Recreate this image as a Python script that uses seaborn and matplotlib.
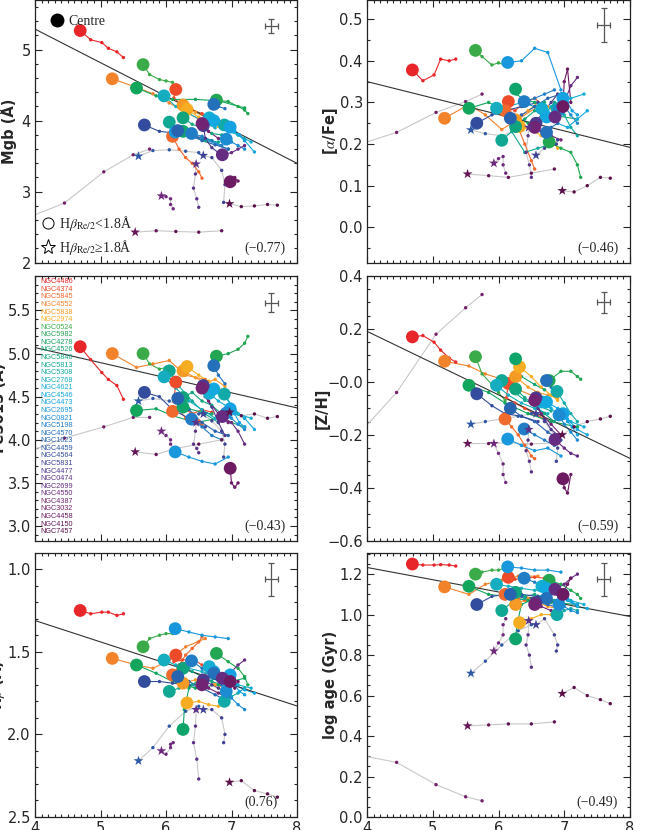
import pandas as pd
import matplotlib.pyplot as plt
import matplotlib.ticker as mticker
from matplotlib.lines import Line2D
import seaborn as sns

sns.set_style("ticks")
plt.rcParams['font.family'] = ['DejaVu Sans']
plt.rcParams['mathtext.fontset'] = 'stix'

# galaxy names, colours, and which ones have Hbeta(Re/2) >= 1.8
names = ['NGC4486', 'NGC4374', 'NGC5845', 'NGC4552', 'NGC5838', 'NGC2974',
         'NGC0524', 'NGC5982', 'NGC4278', 'NGC4526', 'NGC5846', 'NGC5813',
         'NGC5308', 'NGC2768', 'NGC4621', 'NGC4546', 'NGC4473', 'NGC2695',
         'NGC0821', 'NGC5198', 'NGC4570', 'NGC1023', 'NGC4459', 'NGC4564',
         'NGC5831', 'NGC4477', 'NGC0474', 'NGC2699', 'NGC4550', 'NGC4387',
         'NGC3032', 'NGC4458', 'NGC4150', 'NGC7457']
colors = ['#e8262a', '#ee4b2b', '#f0692d', '#f3832b', '#f59b25', '#f7ad22',
          '#3bab4a', '#22a652', '#12a55c', '#0fa46a', '#10a47e', '#10a893',
          '#12aaa8', '#15adbf', '#14aed2', '#12a9e0', '#14a2e2', '#1897dc',
          '#1c8bd2', '#207dc6', '#2470ba', '#2863b0', '#2c58a6', '#334c9e',
          '#3f4296', '#4c3a8e', '#5a3288', '#662c82', '#6e297c', '#722474',
          '#72206c', '#6c1a62', '#641556', '#5a1048']
young = ['NGC4459', 'NGC5831', 'NGC0474', 'NGC4550', 'NGC3032', 'NGC4150', 'NGC7457']

# radial tracks (first point = centre), same x for every panel
x_tr = [
    [4.69, 4.85, 5.02, 5.12, 5.25, 5.35],
    [6.15, 6.12, 6.25, 6.40, 6.55, 6.70],
    [6.10, 6.20, 6.30, 6.40, 6.50, 6.55],
    [5.18, 5.55, 5.80, 6.05, 6.30, 6.60],
    [6.26, 6.45, 6.60, 6.75, 6.90],
    [6.32, 6.50, 6.65, 6.80, 6.90],
    [5.65, 5.75, 5.90, 6.00, 6.10],
    [6.77, 6.95, 7.10, 7.20, 7.25],
    [5.55, 5.85, 6.10, 6.45, 6.80, 7.20],
    [6.26, 6.28, 6.35, 6.55, 6.70],
    [6.26, 6.40, 6.55, 6.70, 6.85],
    [6.05, 6.20, 6.40, 6.60, 6.80],
    [6.89, 7.00, 7.10, 7.20],
    [5.97, 6.15, 6.35, 6.55, 6.75],
    [6.66, 6.80, 6.95, 7.10, 7.30],
    [6.73, 6.90, 7.05, 7.20, 7.35],
    [6.98, 7.05, 7.12, 7.20],
    [6.14, 6.35, 6.55, 6.75, 6.95],
    [6.92, 7.00, 7.10, 7.20],
    [6.39, 6.55, 6.70, 6.85],
    [6.73, 6.80, 6.90],
    [6.18, 6.35, 6.55, 6.75, 6.95],
    [5.58, 5.80, 6.05, 6.30, 6.50],
    [5.67, 5.90, 6.10, 6.35, 6.60],
    [6.57, 6.70, 6.85, 6.90, 6.88],
    [6.57, 6.60, 6.70, 6.80, 6.90],
    [6.46, 6.45, 6.42, 6.47, 6.50],
    [6.86, 7.00, 7.10, 7.20],
    [5.93, 6.00, 6.07, 6.07, 6.11],
    [6.55, 6.65, 6.80, 6.95],
    [3.50, 4.45, 5.05, 5.50, 5.75],
    [6.98, 7.00, 7.05, 7.10],
    [5.53, 5.85, 6.15, 6.50, 6.85],
    [6.97, 7.15, 7.35, 7.55, 7.70],
]
mgb_tr = [
    [5.27, 5.14, 5.10, 5.02, 4.97, 4.89],
    [4.44, 4.32, 4.22, 4.15, 4.10, 4.05],
    [3.78, 3.60, 3.48, 3.40, 3.28, 3.19],
    [4.59, 4.47, 4.38, 4.25, 4.12, 3.98],
    [4.22, 4.12, 4.05, 3.98, 3.93],
    [4.16, 4.05, 3.98, 3.92, 3.88],
    [4.79, 4.65, 4.58, 4.56, 4.54],
    [4.29, 4.27, 4.20, 4.15, 4.10],
    [4.46, 4.35, 4.30, 4.30, 4.28, 4.18],
    [3.85, 3.82, 3.78, 3.75, 3.72],
    [4.04, 3.95, 3.90, 3.82, 3.80],
    [3.98, 3.88, 3.78, 3.72, 3.70],
    [3.94, 3.88, 3.80, 3.75],
    [4.35, 4.20, 4.10, 4.00, 3.90],
    [4.04, 3.95, 3.85, 3.80, 3.70],
    [4.00, 3.92, 3.85, 3.72, 3.56],
    [3.91, 3.85, 3.80, 3.72],
    [3.84, 3.80, 3.75, 3.68, 3.60],
    [3.74, 3.70, 3.65, 3.60],
    [3.82, 3.78, 3.72, 3.65],
    [4.23, 4.20, 4.17],
    [3.86, 3.80, 3.72, 3.66, 3.60],
    [3.50, 3.58, 3.59, 3.57, 3.55],
    [3.94, 3.85, 3.83, 3.80, 3.75],
    [3.51, 3.48, 3.30, 3.10, 2.85],
    [3.93, 3.75, 3.62, 3.55, 3.52],
    [3.39, 3.25, 3.05, 2.90, 2.78],
    [3.52, 3.55, 3.60, 3.65],
    [2.94, 2.93, 2.90, 2.82, 2.76],
    [3.96, 3.85, 3.75, 3.70],
    [2.49, 2.84, 3.28, 3.52, 3.60],
    [3.14, 3.12, 3.20, 3.15],
    [2.43, 2.45, 2.44, 2.43, 2.45],
    [2.83, 2.79, 2.80, 2.82, 2.81],
]
fe_tr = [
    [5.08, 4.93, 4.78, 4.70, 4.63, 4.47],
    [4.67, 4.45, 4.38, 4.30, 4.35, 4.32],
    [4.33, 4.35, 4.25, 4.30, 4.22, 4.18],
    [5.00, 4.84, 4.88, 4.92, 4.75, 4.70],
    [4.80, 4.72, 4.66, 4.70, 4.62],
    [4.85, 4.75, 4.68, 4.60, 4.55],
    [5.00, 4.88, 4.82, 4.84, 4.80],
    [4.97, 5.00, 5.05, 5.12, 5.20],
    [4.34, 4.36, 4.28, 4.20, 4.25, 4.15],
    [4.38, 4.40, 4.36, 4.32, 4.30],
    [4.49, 4.55, 4.45, 4.40, 4.30],
    [4.80, 4.62, 4.45, 4.30, 4.20],
    [4.53, 4.40, 4.30, 4.25],
    [4.73, 4.60, 4.45, 4.35, 4.25],
    [4.54, 4.45, 4.38, 4.30, 4.25],
    [4.59, 4.50, 4.35, 4.25, 4.12],
    [4.36, 4.30, 4.20, 4.15],
    [3.86, 3.80, 3.75, 3.72, 3.80],
    [4.31, 4.25, 4.18, 4.12],
    [4.24, 4.15, 4.05, 4.00],
    [4.86, 4.75, 4.65],
    [4.48, 4.35, 4.20, 4.10, 4.05],
    [4.45, 4.48, 4.45, 4.35, 4.30],
    [4.55, 4.50, 4.35, 4.25, 4.15],
    [4.30, 4.22, 4.10, 3.95, 3.80],
    [4.63, 4.50, 4.38, 4.20, 4.05],
    [4.20, 4.10, 3.95, 3.90, 3.85],
    [4.27, 4.20, 4.10, 3.95],
    [4.10, 4.05, 4.00, 3.95, 3.90],
    [4.60, 4.45, 4.30, 4.20],
    [3.75, 4.02, 4.15, 4.26, 4.26],
    [3.67, 3.50, 3.45, 3.50],
    [3.86, 3.83, 3.90, 3.95, 4.00],
    [4.32, 4.28, 4.30, 4.25, 4.27],
]
hb_tr = [
    [1.25, 1.27, 1.26, 1.26, 1.28, 1.27],
    [1.52, 1.56, 1.55, 1.54, 1.58, 1.60],
    [1.64, 1.58, 1.52, 1.48, 1.44, 1.41],
    [1.54, 1.58, 1.60, 1.55, 1.47, 1.42],
    [1.69, 1.67, 1.65, 1.70, 1.72],
    [1.81, 1.80, 1.82, 1.83, 1.82],
    [1.47, 1.42, 1.40, 1.39, 1.39],
    [1.51, 1.56, 1.60, 1.65, 1.70],
    [1.58, 1.63, 1.68, 1.72, 1.70, 1.66],
    [1.97, 1.85, 1.72, 1.65, 1.60],
    [1.60, 1.62, 1.65, 1.68, 1.70],
    [1.74, 1.72, 1.70, 1.68, 1.66],
    [1.80, 1.77, 1.75, 1.72],
    [1.55, 1.58, 1.60, 1.62, 1.65],
    [1.59, 1.63, 1.66, 1.70, 1.72],
    [1.62, 1.66, 1.70, 1.73, 1.75],
    [1.64, 1.70, 1.74, 1.76],
    [1.36, 1.38, 1.40, 1.41, 1.42],
    [1.74, 1.78, 1.82, 1.85],
    [1.555, 1.60, 1.65, 1.70],
    [1.63, 1.66, 1.70],
    [1.65, 1.68, 1.72, 1.76, 1.80],
    [2.16, 2.08, 1.95, 1.86, 1.83],
    [1.68, 1.68, 1.69, 1.70, 1.72],
    [1.85, 1.85, 1.90, 2.00, 2.05],
    [1.67, 1.68, 1.70, 1.72, 1.74],
    [1.85, 1.95, 2.05, 2.15, 2.27],
    [1.66, 1.62, 1.58, 1.55],
    [2.10, 2.12, 2.08, 2.06, 2.05],
    [1.70, 1.72, 1.75, 1.78],
    [2.90, 2.80, 2.70, 2.60, 2.55],
    [1.68, 1.70, 1.72, 1.68],
    [2.60, 2.62, 2.60, 2.60, 2.62],
    [2.29, 2.28, 2.34, 2.36, 2.38],
]
afe_tr = [
    [0.378, 0.352, 0.366, 0.404, 0.400, 0.404],
    [0.302, 0.290, 0.280, 0.300, 0.310, 0.290],
    [0.280, 0.260, 0.240, 0.200, 0.160, 0.140],
    [0.262, 0.295, 0.270, 0.235, 0.260, 0.290],
    [0.258, 0.280, 0.300, 0.290, 0.270],
    [0.242, 0.235, 0.220, 0.210, 0.190],
    [0.425, 0.410, 0.390, 0.395, 0.390],
    [0.205, 0.190, 0.180, 0.150, 0.120],
    [0.286, 0.300, 0.280, 0.250, 0.270, 0.260],
    [0.332, 0.320, 0.310, 0.300, 0.300],
    [0.242, 0.260, 0.280, 0.270, 0.300],
    [0.209, 0.230, 0.180, 0.190, 0.200],
    [0.285, 0.270, 0.240, 0.220],
    [0.286, 0.290, 0.300, 0.290, 0.280],
    [0.285, 0.290, 0.300, 0.310, 0.320],
    [0.265, 0.250, 0.240, 0.260, 0.280],
    [0.310, 0.300, 0.280, 0.270],
    [0.396, 0.400, 0.430, 0.420, 0.330],
    [0.282, 0.290, 0.270, 0.250],
    [0.302, 0.310, 0.320, 0.330],
    [0.228, 0.240, 0.250],
    [0.262, 0.270, 0.290, 0.310, 0.320],
    [0.234, 0.225, 0.220, 0.235, 0.240],
    [0.250, 0.270, 0.280, 0.290, 0.300],
    [0.173, 0.190, 0.200, 0.210, 0.200],
    [0.250, 0.260, 0.280, 0.300, 0.320],
    [0.240, 0.220, 0.180, 0.150, 0.120],
    [0.265, 0.300, 0.340, 0.360],
    [0.154, 0.165, 0.170, 0.150, 0.130],
    [0.240, 0.230, 0.220, 0.210],
    [0.180, 0.228, 0.276, 0.302, 0.320],
    [0.290, 0.350, 0.380, 0.300],
    [0.128, 0.124, 0.120, 0.130, 0.140],
    [0.088, 0.085, 0.100, 0.120, 0.118],
]
zh_tr = [
    [0.170, 0.175, 0.150, 0.120, 0.090, 0.075],
    [-0.006, -0.060, -0.080, -0.100, -0.120, -0.140],
    [-0.140, -0.170, -0.200, -0.240, -0.280, -0.290],
    [0.078, 0.060, 0.030, 0.010, -0.030, -0.060],
    [0.020, -0.020, -0.040, -0.050, -0.060],
    [0.057, 0.020, -0.020, -0.050, -0.070],
    [0.095, 0.030, -0.010, -0.040, -0.070],
    [0.005, 0.040, 0.040, 0.020, 0.010],
    [-0.013, -0.040, -0.080, -0.120, -0.150, -0.170],
    [0.087, 0.050, 0.020, -0.010, -0.030],
    [-0.027, -0.060, -0.090, -0.120, -0.150],
    [0.005, -0.030, -0.070, -0.090, -0.110],
    [-0.036, -0.080, -0.120, -0.150],
    [-0.013, -0.050, -0.080, -0.100, -0.120],
    [-0.076, -0.100, -0.130, -0.150, -0.170],
    [-0.076, -0.100, -0.140, -0.180, -0.200],
    [-0.120, -0.150, -0.170, -0.200],
    [-0.216, -0.240, -0.260, -0.250, -0.280],
    [-0.125, -0.160, -0.190, -0.220],
    [-0.178, -0.200, -0.220, -0.240],
    [0.005, -0.020, -0.050],
    [-0.100, -0.130, -0.150, -0.190, -0.220],
    [-0.160, -0.150, -0.140, -0.130, -0.120],
    [-0.045, -0.090, -0.120, -0.130, -0.150],
    [-0.120, -0.150, -0.200, -0.250, -0.300],
    [-0.060, -0.100, -0.140, -0.180, -0.200],
    [-0.180, -0.220, -0.260, -0.300, -0.340],
    [-0.218, -0.250, -0.270, -0.280],
    [-0.233, -0.270, -0.310, -0.350, -0.380],
    [-0.070, -0.120, -0.160, -0.200],
    [-0.300, -0.040, 0.180, 0.280, 0.330],
    [-0.366, -0.400, -0.420, -0.350],
    [-0.233, -0.233, -0.230, -0.235, -0.230],
    [-0.200, -0.170, -0.150, -0.140, -0.130],
]
age_tr = [
    [1.250, 1.245, 1.245, 1.247, 1.245, 1.240],
    [1.184, 1.180, 1.175, 1.180, 1.185, 1.180],
    [1.100, 1.090, 1.080, 1.070, 1.060, 1.060],
    [1.137, 1.100, 1.150, 1.170, 1.190, 1.190],
    [1.050, 1.080, 1.060, 1.040, 1.030],
    [0.960, 0.980, 1.000, 1.000, 0.990],
    [1.200, 1.210, 1.220, 1.220, 1.230],
    [1.170, 1.150, 1.120, 1.100, 1.080],
    [1.140, 1.100, 1.090, 1.070, 1.060, 1.050],
    [0.880, 0.950, 1.050, 1.080, 1.100],
    [1.110, 1.090, 1.100, 1.080, 1.070],
    [1.020, 1.060, 1.080, 1.090, 1.100],
    [1.000, 1.020, 1.030, 1.020],
    [1.150, 1.140, 1.130, 1.120, 1.120],
    [1.140, 1.120, 1.100, 1.070, 1.050],
    [1.130, 1.100, 1.070, 1.040, 1.030],
    [1.100, 1.080, 1.060, 1.050],
    [1.236, 1.230, 1.220, 1.220, 1.210],
    [1.050, 1.040, 1.020, 1.010],
    [1.180, 1.160, 1.140, 1.120],
    [1.080, 1.070, 1.060],
    [1.100, 1.090, 1.070, 1.050, 1.030],
    [0.710, 0.770, 0.850, 0.920, 0.950],
    [1.050, 1.090, 1.100, 1.100, 1.090],
    [0.950, 0.980, 0.900, 0.850, 0.820],
    [1.060, 1.080, 1.100, 1.120, 1.130],
    [0.970, 0.900, 0.850, 0.800, 0.740],
    [1.125, 1.150, 1.180, 1.200],
    [0.820, 0.860, 0.900, 0.950, 0.980],
    [1.050, 1.040, 1.020, 1.000],
    [0.330, 0.270, 0.160, 0.100, 0.080],
    [1.100, 1.120, 1.150, 1.180],
    [0.450, 0.455, 0.460, 0.460, 0.470],
    [0.610, 0.640, 0.600, 0.580, 0.560],
]

# panel settings
cols = ['Mgb', 'afe', 'Fe5015', 'ZH', 'Hb', 'age']
ylabels = ['Mgb (Å)', r'[$\alpha$/Fe]', 'Fe5015 (Å)', '[Z/H]', r'H$\beta$ (Å)', 'log age (Gyr)']
ylims = [(2.0, 5.7), (-0.085, 0.546), (2.83, 5.9), (-0.6, 0.4), (2.5, 0.904), (0.0, 1.303)]
ymajor = [1.0, 0.1, 0.5, 0.2, 0.5, 0.2]
yminor = [0.2, 0.05, 0.1, 0.05, 0.1, 0.05]
yfmt = ['%d', '%.1f', '%.1f', '%.1f', '%.1f', '%.1f']
corr = ['(−0.77)', '(−0.46)', '(−0.43)', '(−0.59)', '(0.76)', '(−0.49)']
fit_y0 = [5.29, 0.350, 5.07, 0.191, 1.311, 1.233]   # fit at x=4
fit_y1 = [3.40, 0.192, 4.37, -0.289, 1.828, 0.991]  # fit at x=8
err_x = [7.61, 7.60, 7.61, 7.60, 7.61, 7.60]
err_y = [5.33, 0.486, 5.59, 0.30, 1.06, 1.174]
err_dx = [0.1, 0.1, 0.1, 0.1, 0.1, 0.1]
err_dy = [0.10, 0.041, 0.11, 0.041, 0.10, 0.083]

rows = []
for i, n in enumerate(names):
    for j in range(len(x_tr[i])):
        rows.append({'name': n, 'step': j, 'x': x_tr[i][j],
                     'Mgb': mgb_tr[i][j], 'Fe5015': fe_tr[i][j], 'Hb': hb_tr[i][j],
                     'afe': afe_tr[i][j], 'ZH': zh_tr[i][j], 'age': age_tr[i][j]})
df = pd.DataFrame(rows)
df['young'] = df['name'].isin(young)
centres = df[df['step'] == 0]
pal = dict(zip(names, colors))
grey_pal = {n: '#c8c8c8' for n in young}

fig = plt.figure(figsize=(6.64, 8.30), dpi=100)
W, H = 664, 830
lefts = [35, 367]
widths = [262, 263]
tops = [0, 276, 553.3]
bottoms = [262.7, 540.7, 817]
axes = []
for r in range(3):
    for c in range(2):
        axes.append(fig.add_axes([lefts[c] / W, 1 - bottoms[r] / H,
                                  widths[c] / W, (bottoms[r] - tops[r]) / H]))

for k, ax in enumerate(axes):
    col = cols[k]
    sns.lineplot(data=df[df['young']], x='x', y=col, hue='name', palette=grey_pal,
                 estimator=None, sort=False, lw=0.8, legend=False, ax=ax)
    sns.lineplot(data=df[~df['young']], x='x', y=col, hue='name',
                 palette={n: pal[n] for n in names if n not in young},
                 estimator=None, sort=False, lw=0.8, legend=False, ax=ax)
    sns.scatterplot(data=df[df['step'] > 0], x='x', y=col, hue='name', palette=pal,
                    s=6, linewidth=0, legend=False, ax=ax, zorder=3)
    sns.scatterplot(data=centres[~centres['young']], x='x', y=col, hue='name', palette=pal,
                    s=85, marker='o', linewidth=0, legend=False, ax=ax, zorder=4)
    sns.scatterplot(data=centres[centres['young']], x='x', y=col, hue='name', palette=pal,
                    s=55, marker='*', linewidth=0, legend=False, ax=ax, zorder=4)
    sns.lineplot(x=[4, 8], y=[fit_y0[k], fit_y1[k]], color='#333333', lw=0.8, ax=ax)
    ax.errorbar(err_x[k], err_y[k], xerr=err_dx[k], yerr=err_dy[k], color='#555555',
                lw=0.9, capsize=2, capthick=0.9)

    ax.set_xlim(4, 8)
    ax.set_ylim(*ylims[k])
    ax.xaxis.set_major_locator(mticker.MultipleLocator(1))
    ax.xaxis.set_minor_locator(mticker.MultipleLocator(0.1))
    ax.yaxis.set_major_locator(mticker.MultipleLocator(ymajor[k]))
    ax.yaxis.set_minor_locator(mticker.MultipleLocator(yminor[k]))
    ax.yaxis.set_major_formatter(mticker.FormatStrFormatter(yfmt[k]))
    ax.tick_params(which='both', direction='in', top=True, right=True, width=0.8,
                   labelsize=10.5, pad=3)
    ax.tick_params(which='major', length=5)
    ax.tick_params(which='minor', length=2.5)
    for s in ax.spines.values():
        s.set_linewidth(0.9)
        s.set_color('#222222')
    ax.set_xlabel('')
    ax.set_ylabel(ylabels[k], fontsize=10.5, fontweight='bold')
    if k < 4:
        ax.set_xticklabels([])
    else:
        ax.xaxis.set_major_formatter(mticker.FormatStrFormatter('%d'))
    ax.text(0.955 if k != 4 else 0.925, 0.056, corr[k], transform=ax.transAxes,
            ha='right', va='center', family='Liberation Serif', fontsize=10)

# Z/H tick labels drawn as in the original (zero shown as -0.0)
zh_ticks = [-0.6, -0.4, -0.2, 0.0, 0.2, 0.4]
zh_labels = ['−0.6', '−0.4', '−0.2', '−0.0', '0.2', '0.4']
axes[3].yaxis.set_major_locator(mticker.FixedLocator(zh_ticks))
axes[3].set_yticklabels(zh_labels)

label_x = [-0.069, -0.103, -0.107, -0.141, -0.107, -0.11]
for ax, lx in zip(axes, label_x):
    ax.yaxis.set_label_coords(lx, 0.5)

# legends in the Mgb panel
leg1 = axes[0].legend(handles=[Line2D([], [], marker='o', ls='none', color='k', markersize=9)],
                      labels=['Centre'], loc='upper left', frameon=False,
                      handlelength=1.0, handletextpad=0.3, borderaxespad=0.7,
                      prop={'family': 'Liberation Serif', 'size': 10})
axes[0].add_artist(leg1)
axes[0].legend(handles=[Line2D([], [], marker='o', ls='none', mfc='none', mec='k', mew=0.7, markersize=8),
                        Line2D([], [], marker='*', ls='none', mfc='none', mec='k', mew=0.7, markersize=11)],
               labels=[r'H$\beta_{\rm Re/2}$<1.8Å', r'H$\beta_{\rm Re/2}$≥1.8Å'],
               loc='lower left', frameon=False, handlelength=1.0, handletextpad=0.3,
               labelspacing=0.35, borderaxespad=0.0,
               prop={'family': 'Liberation Serif', 'size': 10})

# galaxy name list in the Fe5015 panel
for i, n in enumerate(names):
    axes[2].text(0.02, 0.978 - i * 0.0286, n, transform=axes[2].transAxes, color=colors[i],
                 ha='left', va='center', family=['Liberation Sans Narrow', 'Liberation Sans'],
                 fontsize=5.2)

fig.savefig('out.png', dpi=100)
